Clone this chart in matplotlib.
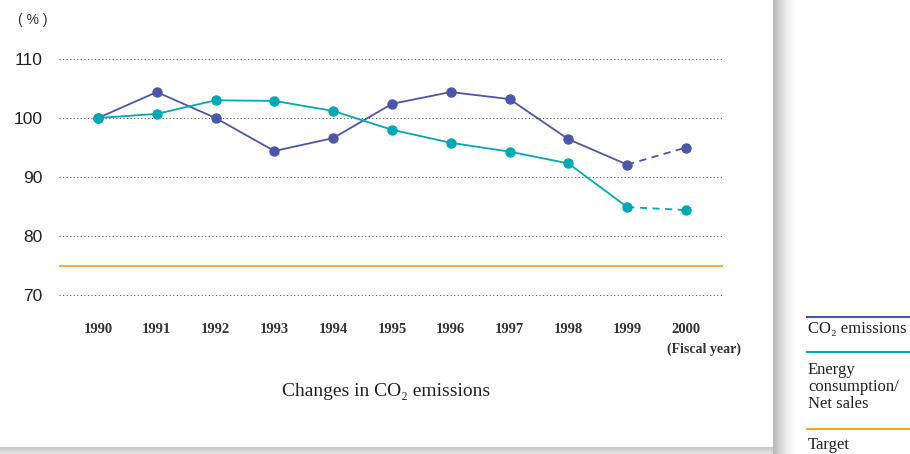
import matplotlib.pyplot as plt
from matplotlib.patches import Rectangle

years = [1990, 1991, 1992, 1993, 1994, 1995, 1996, 1997, 1998, 1999, 2000]
co2 = [100.0, 104.4, 100.0, 94.4, 96.6, 102.4, 104.4, 103.2, 96.4, 92.1, 95.0]
energy = [100.0, 100.7, 103.0, 102.9, 101.2, 98.0, 95.8, 94.3, 92.3, 84.9, 84.4]
target = 75
yticks = [70, 80, 90, 100, 110]

BLUE = "#4b57a6"
TEAL = "#00a9b4"
ORANGE = "#f5a623"
SANS = "Liberation Sans"
SERIF = ["Liberation Serif", "DejaVu Serif"]

W, H = 910, 454
fig = plt.figure(figsize=(W / 100, H / 100), dpi=100)


def fx(px):
    return px / W


def fy(py):
    return 1 - py / H


# shadow of the white panel: right edge and bottom edge
panel_r, panel_b = 773, 447
for d in range(24):
    a = 0.28 * (1 - d / 24) ** 1.6
    fig.patches.append(Rectangle((fx(panel_r + d), 0), fx(1), 1,
                                 transform=fig.transFigure, facecolor="black", alpha=a,
                                 edgecolor="none", zorder=0))
for d in range(8):
    a = 0.22 * (1 - d / 12)
    fig.patches.append(Rectangle((0, fy(panel_b + d + 1)), fx(panel_r), 1 / H,
                                 transform=fig.transFigure, facecolor="black", alpha=a,
                                 edgecolor="none", zorder=0))
fig.patches.append(Rectangle((0, fy(panel_b)), fx(panel_r), panel_b / H,
                             transform=fig.transFigure, facecolor="white",
                             edgecolor="none", zorder=1))

# axes placed in pixel layout
x_left_px, x_right_px = 59, 723
px_per_year = 58.8
y100_px, px_per_unit = 118, 5.9
ylo, yhi = 69, 112
xlo = 1990 - (98 - x_left_px) / px_per_year
xhi = 1990 + (x_right_px - 98) / px_per_year
top_px = y100_px - (yhi - 100) * px_per_unit
bot_px = y100_px + (100 - ylo) * px_per_unit
ax = fig.add_axes([fx(x_left_px), fy(bot_px), fx(x_right_px - x_left_px),
                   (bot_px - top_px) / H])
ax.set_zorder(3)
ax.set_xlim(xlo, xhi)
ax.set_ylim(ylo, yhi)
ax.patch.set_visible(False)
for s in ax.spines.values():
    s.set_visible(False)

for v in yticks:
    ax.axhline(v, color="#555555", lw=0.8, ls=(0, (1, 2.2)), zorder=1)
ax.axhline(target, color=ORANGE, lw=1.3, zorder=2)

# solid up to 1999, dashed to the 2000 estimate
ax.plot(years[:-1], co2[:-1], color=BLUE, lw=1.3, marker="o", ms=6.5, zorder=4)
ax.plot(years[-2:], co2[-2:], color=BLUE, lw=1.3, ls=(0, (4, 3)), zorder=3)
ax.plot(years[-1], co2[-1], color=BLUE, marker="o", ms=6.5, zorder=4)
ax.plot(years[:-1], energy[:-1], color=TEAL, lw=1.3, marker="o", ms=6.5, zorder=4)
ax.plot(years[-2:], energy[-2:], color=TEAL, lw=1.3, ls=(0, (4, 3)), zorder=3)
ax.plot(years[-1], energy[-1], color=TEAL, marker="o", ms=6.5, zorder=4)

ax.set_yticks(yticks)
ax.set_yticklabels([str(v) for v in yticks], fontfamily=SANS, fontsize=12.5, color="#222222")
ax.set_xticks(years)
ax.set_xticklabels([str(y) for y in years], fontfamily=SERIF, fontsize=10.5,
                   fontweight="bold", color="#333333")
ax.tick_params(axis="y", length=0, pad=12)
ax.tick_params(axis="x", length=0, pad=16)

fig.text(fx(18), fy(20), "( % )", fontfamily=SANS, fontsize=10, color="#333333",
         va="center", ha="left")
fig.text(fx(667), fy(349), "(Fiscal year)", fontfamily=SERIF, fontsize=10,
         fontweight="bold", color="#333333", va="center", ha="left")
fig.text(fx(386), fy(391), "Changes in CO₂ emissions", family=SERIF, fontsize=14,
         color="#222222", va="center", ha="center")

# legend on the right
for ypx, col in [(316.5, BLUE), (352, TEAL), (429, ORANGE)]:
    fig.add_artist(plt.Line2D([fx(807), 1], [fy(ypx), fy(ypx)], color=col, lw=1.5,
                              transform=fig.transFigure, zorder=5))
fig.text(fx(808), fy(329), "CO₂ emissions", family=SERIF, fontsize=12,
         color="#222222", va="center", ha="left")
fig.text(fx(808), fy(387), "Energy\nconsumption/\nNet sales", family=SERIF,
         fontsize=12, color="#222222", va="center", ha="left", linespacing=1.12)
fig.text(fx(808), fy(445), "Target", family=SERIF, fontsize=12,
         color="#222222", va="center", ha="left")

fig.savefig("out.png", dpi=100)
